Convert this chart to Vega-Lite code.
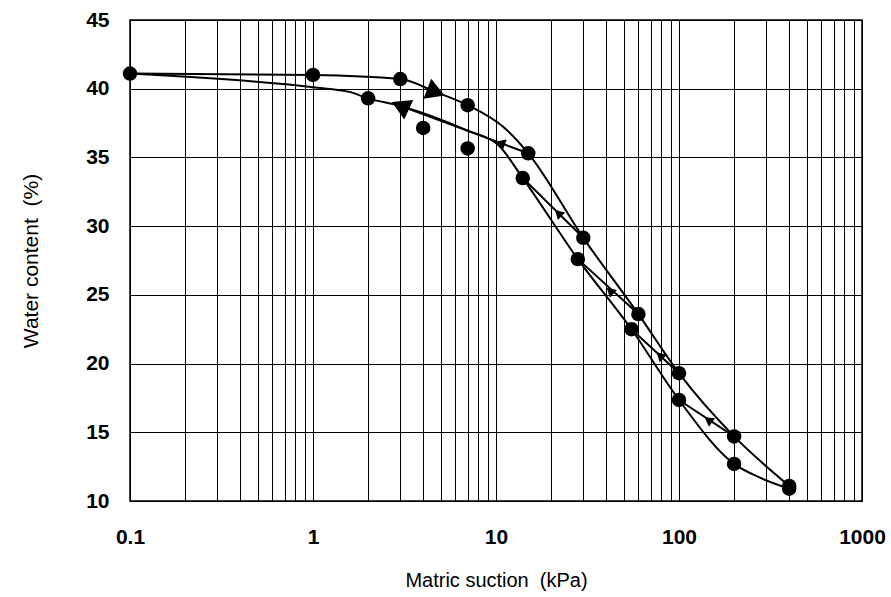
{
  "$schema": "https://vega.github.io/schema/vega-lite/v6.json",
  "width": 732,
  "height": 481,
  "autosize": "none",
  "padding": {"left": 130, "top": 20, "right": 29, "bottom": 96},
  "background": "white",
  "config": {
    "view": {"stroke": "black", "strokeWidth": 1.5},
    "font": "Liberation Sans"
  },
  "datasets": {
    "curves": [
      {"x": 0.1, "y": 41.1, "curve": "D"},
      {"x": 1, "y": 41.0, "curve": "D"},
      {"x": 3, "y": 40.7, "curve": "D"},
      {"x": 4.7, "y": 39.75, "curve": "D"},
      {"x": 7, "y": 38.8, "curve": "D"},
      {"x": 10.9, "y": 37.25, "curve": "D"},
      {"x": 15, "y": 35.3, "curve": "D"},
      {"x": 30, "y": 29.15, "curve": "D"},
      {"x": 60, "y": 23.6, "curve": "D"},
      {"x": 100, "y": 19.3, "curve": "D"},
      {"x": 200, "y": 14.7, "curve": "D"},
      {"x": 400, "y": 11.1, "curve": "D"},
      {"x": 0.1, "y": 41.1, "curve": "W"},
      {"x": 1, "y": 40.1, "curve": "W"},
      {"x": 1.6, "y": 39.75, "curve": "W"},
      {"x": 2, "y": 39.3, "curve": "W"},
      {"x": 3, "y": 38.75, "curve": "W"},
      {"x": 7, "y": 36.95, "curve": "W"},
      {"x": 10.3, "y": 35.9, "curve": "W"},
      {"x": 14, "y": 33.5, "curve": "W"},
      {"x": 28, "y": 27.6, "curve": "W"},
      {"x": 55, "y": 22.5, "curve": "W"},
      {"x": 100, "y": 17.35, "curve": "W"},
      {"x": 200, "y": 12.7, "curve": "W"},
      {"x": 277, "y": 11.7, "curve": "W"},
      {"x": 400, "y": 10.9, "curve": "W"},
      {"x": 15, "y": 35.3, "curve": "S1"},
      {"x": 3, "y": 38.75, "curve": "S1"},
      {"x": 30, "y": 29.15, "curve": "S2"},
      {"x": 14, "y": 33.5, "curve": "S2"},
      {"x": 60, "y": 23.6, "curve": "S3"},
      {"x": 28, "y": 27.6, "curve": "S3"},
      {"x": 100, "y": 19.3, "curve": "S4"},
      {"x": 55, "y": 22.5, "curve": "S4"},
      {"x": 200, "y": 14.7, "curve": "S5"},
      {"x": 100, "y": 17.35, "curve": "S5"}
    ],
    "points": [
      {"x": 0.1, "y": 41.1},
      {"x": 1, "y": 41.0},
      {"x": 3, "y": 40.7},
      {"x": 7, "y": 38.8},
      {"x": 15, "y": 35.3},
      {"x": 30, "y": 29.15},
      {"x": 60, "y": 23.6},
      {"x": 100, "y": 19.3},
      {"x": 200, "y": 14.7},
      {"x": 400, "y": 11.1},
      {"x": 2, "y": 39.3},
      {"x": 4, "y": 37.15},
      {"x": 7, "y": 35.65},
      {"x": 14, "y": 33.5},
      {"x": 28, "y": 27.6},
      {"x": 55, "y": 22.5},
      {"x": 100, "y": 17.35},
      {"x": 200, "y": 12.7},
      {"x": 400, "y": 10.9}
    ],
    "arrows": [
      {"x": 4.7, "y": 39.75, "curve": "D", "kind": "big"},
      {"x": 3, "y": 38.75, "curve": "W", "kind": "big"},
      {"x": 10.6, "y": 36.05, "curve": "S1", "kind": "small"},
      {"x": 21.9, "y": 30.95, "curve": "S2", "kind": "small"},
      {"x": 42, "y": 25.3, "curve": "S3", "kind": "small"},
      {"x": 78.7, "y": 20.6, "curve": "S4", "kind": "small"},
      {"x": 144.5, "y": 15.9, "curve": "S5", "kind": "small"}
    ]
  },
  "encoding": {
    "x": {
      "field": "x",
      "type": "quantitative",
      "scale": {"type": "log", "domain": [0.1, 1000], "nice": false},
      "axis": {
        "title": "Matric suction \u00a0(kPa)",
        "values": [0.1, 0.2, 0.3, 0.4, 0.5, 0.6, 0.7, 0.8, 0.9, 1, 2, 3, 4, 5, 6, 7, 8, 9, 10, 20, 30, 40, 50, 60, 70, 80, 90, 100, 200, 300, 400, 500, 600, 700, 800, 900, 1000],
        "format": "~g",
        "labelExpr": "indexof(['0.1','1','10','100','1000'], datum.label) >= 0 ? datum.label : ''",
        "ticks": false,
        "domain": false,
        "grid": true,
        "gridColor": "black",
        "gridOpacity": 1,
        "gridWidth": 1,
        "labelFontSize": 21,
        "labelFontWeight": "bold",
        "labelColor": "black",
        "labelPadding": 25,
        "labelFlush": false,
        "labelOverlap": false,
        "titleFontSize": 20,
        "titleFontWeight": "normal",
        "titleColor": "black",
        "titlePadding": 23
      }
    },
    "y": {
      "field": "y",
      "type": "quantitative",
      "scale": {"domain": [10, 45], "nice": false, "zero": false},
      "axis": {
        "title": "Water content \u00a0(%)",
        "values": [10, 15, 20, 25, 30, 35, 40, 45],
        "ticks": false,
        "domain": false,
        "grid": true,
        "gridColor": "black",
        "gridOpacity": 1,
        "gridWidth": 1,
        "labelFontSize": 21,
        "labelFontWeight": "bold",
        "labelColor": "black",
        "labelPadding": 21,
        "labelFlush": false,
        "titleFontSize": 21,
        "titleFontWeight": "normal",
        "titleColor": "black",
        "titlePadding": 44
      }
    }
  },
  "layer": [
    {
      "data": {"name": "curves"},
      "mark": {"type": "line", "color": "black", "strokeWidth": 2, "interpolate": "monotone"},
      "encoding": {"detail": {"field": "curve", "type": "nominal"}}
    },
    {
      "data": {"name": "points"},
      "mark": {"type": "point", "shape": "circle", "filled": true, "color": "black", "opacity": 1, "size": 210}
    },
    {
      "data": {"name": "arrows"},
      "mark": {"type": "point", "shape": "triangle-left", "filled": true, "color": "black", "opacity": 1},
      "encoding": {
        "angle": {
          "field": "curve",
          "type": "nominal",
          "scale": {"type": "ordinal", "domain": ["D", "W", "S1", "S2", "S3", "S4", "S5"], "range": [201, 25, 20, 44, 42, 44, 35]},
          "legend": null
        },
        "size": {
          "field": "kind",
          "type": "nominal",
          "scale": {"type": "ordinal", "domain": ["big", "small"], "range": [460, 110]},
          "legend": null
        }
      }
    }
  ]
}
